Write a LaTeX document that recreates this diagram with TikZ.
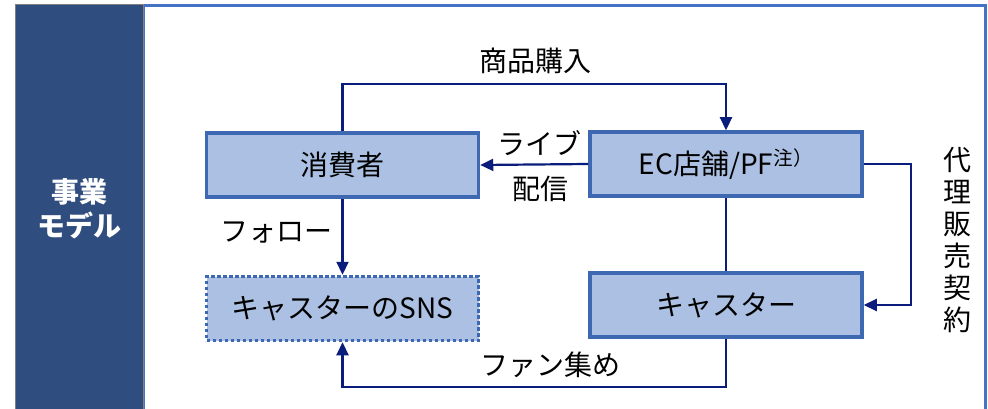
\documentclass[tikz,border=0pt]{standalone}
\usepackage{fontspec}
\setmainfont{Noto Sans CJK JP}
\usetikzlibrary{arrows.meta}
\definecolor{panel}{HTML}{2F4D7E}
\definecolor{frameblue}{HTML}{4472C4}
\definecolor{boxfill}{HTML}{ABC0E2}
\definecolor{boxline}{HTML}{3F68B2}
\definecolor{navy}{HTML}{0A1C7C}
\tikzset{
  box/.style={draw=boxline, line width=3.5pt, fill=boxfill, minimum width=272pt, minimum height=64pt, inner sep=0pt, font=\fontsize{28}{30}\selectfont},
  dotbox/.style={box, draw=boxline, line width=3.5pt, dash pattern=on 3.5pt off 2.5pt},
  conn/.style={draw=navy, line width=2.2pt},
  arr/.style={conn, -{Triangle[length=13pt,width=12pt]}},
  lbl/.style={font=\fontsize{28}{30}\selectfont, inner sep=0pt}
}
\begin{document}
\begin{tikzpicture}[x=1pt,y=-1pt]
\useasboundingbox (0,0) rectangle (988,409);
\begin{scope}
\clip (0,0) rectangle (988,409);
\draw[frameblue, line width=3pt, fill=white] (143,6) rectangle (985,430);
\draw[gray, line width=1pt, fill=panel] (15,5) rectangle (143,430);
\end{scope}
\node[text=white, font=\bfseries\fontsize{28}{36}\selectfont, align=center] (title) at (79,209) {事業\\[-2pt]モデル};

\node[box] (cons) at (342.5,165) {消費者};
\node[box] (ec) at (726,164) {EC店舗/PF\textsuperscript{注）}};
\node[dotbox] (sns) at (342.5,308.5) {キャスターのSNS};
\node[box] (cast) at (726,305) {キャスター};

\coordinate (t1) at (342.5,84);
\coordinate (t2) at (726,84);
\draw[arr] (cons.north) -- (t1) -- (t2) -- (ec.north);
\draw[arr] (ec.west) -- (cons.east);
\draw[arr] (cons.south) -- (sns.north);
\draw[conn] (ec.south) -- (cast.north);
\coordinate (r1) at (911,164);
\coordinate (r2) at (911,305);
\draw[arr] (ec.east) -- (r1) -- (r2) -- (cast.east);
\coordinate (b1) at (726,387);
\coordinate (b2) at (342.5,387);
\draw[arr] (cast.south) -- (b1) -- (b2) -- (sns.south);

\node[lbl] (l1) at (535,61) {商品購入};
\node[lbl] (l2) at (539,143) {ライブ};
\node[lbl] (l3) at (540,189) {配信};
\node[lbl] (l4) at (276,232) {フォロー};
\node[lbl] (l5) at (550,365) {ファン集め};
\node[lbl, align=center, font=\fontsize{28}{32}\selectfont] (l6) at (957,240) {代\\理\\販\\売\\契\\約};
\end{tikzpicture}
\end{document}
